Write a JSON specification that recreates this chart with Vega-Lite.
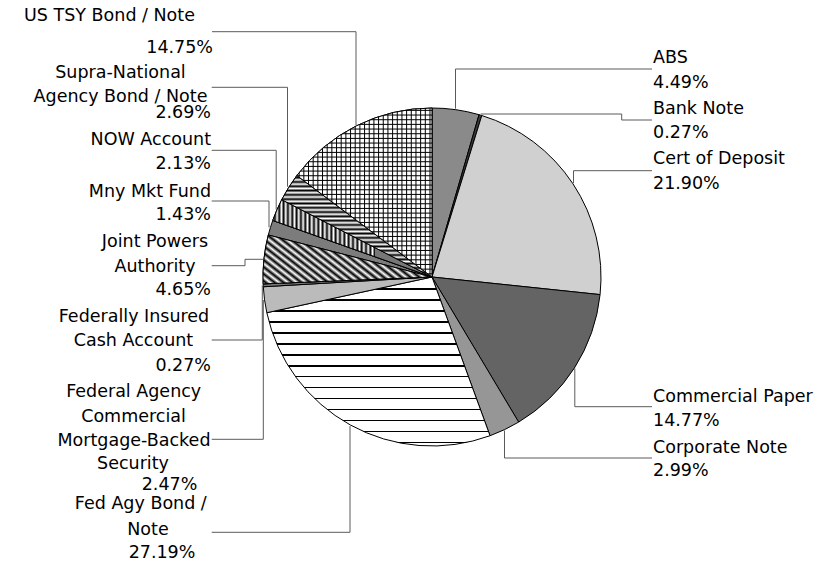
{
  "$schema": "https://vega.github.io/schema/vega-lite/v6.json",
  "width": 829,
  "height": 566,
  "autosize": {"type": "fit", "contains": "padding"},
  "padding": 0,
  "background": "white",
  "config": {"view": {"stroke": null}, "text": {"font": "DejaVu Sans", "fontSize": 17.5, "color": "#000"}},
  "datasets": {
    "slices": [
      {"idx": 1, "category": "ABS", "share": 4.49},
      {"idx": 2, "category": "Bank Note", "share": 0.27},
      {"idx": 3, "category": "Cert of Deposit", "share": 21.90},
      {"idx": 4, "category": "Commercial Paper", "share": 14.77},
      {"idx": 5, "category": "Corporate Note", "share": 2.99},
      {"idx": 6, "category": "Fed Agy Bond / Note", "share": 27.19},
      {"idx": 7, "category": "Federal Agency Commercial Mortgage-Backed Security", "share": 2.47},
      {"idx": 8, "category": "Federally Insured Cash Account", "share": 0.27},
      {"idx": 9, "category": "Joint Powers Authority", "share": 4.65},
      {"idx": 10, "category": "Mny Mkt Fund", "share": 1.43},
      {"idx": 11, "category": "NOW Account", "share": 2.13},
      {"idx": 12, "category": "Supra-National Agency Bond / Note", "share": 2.69},
      {"idx": 13, "category": "US TSY Bond / Note", "share": 14.75}
    ],
    "leaders": [
      {"id": "UST", "p": 1, "x": -76, "y": 152}, {"id": "UST", "p": 2, "x": -76, "y": 245.3}, {"id": "UST", "p": 3, "x": -220, "y": 245.3},
      {"id": "Supra", "p": 1, "x": -144.5, "y": 90.3}, {"id": "Supra", "p": 2, "x": -144.5, "y": 189.7}, {"id": "Supra", "p": 3, "x": -220.3, "y": 189.7},
      {"id": "NOW", "p": 1, "x": -155.8, "y": 67.5}, {"id": "NOW", "p": 2, "x": -155.8, "y": 126.7}, {"id": "NOW", "p": 3, "x": -220.3, "y": 126.7},
      {"id": "MMF", "p": 1, "x": -163, "y": 49.6}, {"id": "MMF", "p": 2, "x": -163, "y": 76}, {"id": "MMF", "p": 3, "x": -220.3, "y": 76},
      {"id": "JPA", "p": 1, "x": -169, "y": 17.7}, {"id": "JPA", "p": 2, "x": -187, "y": 17.7}, {"id": "JPA", "p": 3, "x": -187, "y": 11.3}, {"id": "JPA", "p": 4, "x": -220.3, "y": 11.3},
      {"id": "FICA", "p": 1, "x": -169.7, "y": -8.4}, {"id": "FICA", "p": 2, "x": -169.7, "y": -63}, {"id": "FICA", "p": 3, "x": -220.3, "y": -63},
      {"id": "CMBS", "p": 1, "x": -168.7, "y": -23}, {"id": "CMBS", "p": 2, "x": -168.7, "y": -162.3}, {"id": "CMBS", "p": 3, "x": -220.3, "y": -162.3},
      {"id": "FedAgy", "p": 1, "x": -82, "y": -149}, {"id": "FedAgy", "p": 2, "x": -82, "y": -255.3}, {"id": "FedAgy", "p": 3, "x": -220.3, "y": -255.3},
      {"id": "ABS", "p": 1, "x": 23.5, "y": 168.3}, {"id": "ABS", "p": 2, "x": 23.5, "y": 208}, {"id": "ABS", "p": 3, "x": 220, "y": 208},
      {"id": "Bank", "p": 1, "x": 48.7, "y": 163}, {"id": "Bank", "p": 2, "x": 189.7, "y": 163}, {"id": "Bank", "p": 3, "x": 189.7, "y": 157}, {"id": "Bank", "p": 4, "x": 220, "y": 157},
      {"id": "CD", "p": 1, "x": 141.5, "y": 94}, {"id": "CD", "p": 2, "x": 141.5, "y": 106.3}, {"id": "CD", "p": 3, "x": 220, "y": 106.3},
      {"id": "CP", "p": 1, "x": 142.8, "y": -91.5}, {"id": "CP", "p": 2, "x": 142.8, "y": -129.7}, {"id": "CP", "p": 3, "x": 220, "y": -129.7},
      {"id": "Corp", "p": 1, "x": 72.5, "y": -153.5}, {"id": "Corp", "p": 2, "x": 72.5, "y": -181}, {"id": "Corp", "p": 3, "x": 220, "y": -181}
    ],
    "labelsCenter": [
      {"t": "US TSY Bond / Note", "x": -322.5, "y": 261},
      {"t": "Supra-National", "x": -311.5, "y": 204.3},
      {"t": "Agency Bond / Note", "x": -311.5, "y": 180.5},
      {"t": "Joint Powers", "x": -277, "y": 34.7},
      {"t": "Authority", "x": -277, "y": 10.3},
      {"t": "Federally Insured", "x": -298, "y": -39.7},
      {"t": "Cash Account", "x": -298.5, "y": -64},
      {"t": "Federal Agency", "x": -298.3, "y": -115.3},
      {"t": "Commercial", "x": -298.5, "y": -139.7},
      {"t": "Mortgage-Backed", "x": -298, "y": -164},
      {"t": "Security", "x": -299, "y": -187},
      {"t": "2.47%", "x": -262.5, "y": -208},
      {"t": "Fed Agy Bond /", "x": -291.2, "y": -226.5},
      {"t": "Note", "x": -284, "y": -253},
      {"t": "27.19%", "x": -270, "y": -276.3}
    ],
    "labelsRight": [
      {"t": "14.75%", "x": -219, "y": 228.7},
      {"t": "2.69%", "x": -221, "y": 164.5},
      {"t": "NOW Account", "x": -221, "y": 137},
      {"t": "2.13%", "x": -221, "y": 112.7},
      {"t": "Mny Mkt Fund", "x": -221, "y": 85.3},
      {"t": "1.43%", "x": -221, "y": 62},
      {"t": "4.65%", "x": -221, "y": -13},
      {"t": "0.27%", "x": -221, "y": -89}
    ],
    "labelsLeft": [
      {"t": "ABS", "x": 221, "y": 218.7},
      {"t": "4.49%", "x": 221, "y": 194.3},
      {"t": "Bank Note", "x": 221, "y": 168},
      {"t": "0.27%", "x": 221, "y": 143.7},
      {"t": "Cert of Deposit", "x": 221, "y": 117.7},
      {"t": "21.90%", "x": 221, "y": 93},
      {"t": "Commercial Paper", "x": 221, "y": -120.3},
      {"t": "14.77%", "x": 221, "y": -144},
      {"t": "Corporate Note", "x": 221, "y": -170.7},
      {"t": "2.99%", "x": 221, "y": -194}
    ]
  },
  "layer": [
    {
      "data": {"name": "slices"},
      "mark": {"type": "arc", "outerRadius": 169, "stroke": "#000", "strokeWidth": 1},
      "encoding": {
        "x": {"datum": 0, "type": "quantitative", "scale": {"domain": [-432, 397], "nice": false, "zero": false}, "axis": null},
        "y": {"datum": 0, "type": "quantitative", "scale": {"domain": [-289, 277], "nice": false, "zero": false}, "axis": null},
        "theta": {"field": "share", "type": "quantitative", "stack": true},
        "order": {"field": "idx", "type": "quantitative"},
        "fill": {
          "condition": [
            {"test": "datum.idx === 6", "value": {"gradient": "linear", "x1": 0, "y1": 0, "x2": 0, "y2": 1, "stops": [
                {"offset": 0, "color": "#fff"},
                {"offset": 0.0679, "color": "#fff"}, {"offset": 0.0679, "color": "#000"}, {"offset": 0.0769, "color": "#000"}, {"offset": 0.0769, "color": "#fff"},
                {"offset": 0.1326, "color": "#fff"}, {"offset": 0.1326, "color": "#000"}, {"offset": 0.1416, "color": "#000"}, {"offset": 0.1416, "color": "#fff"},
                {"offset": 0.1973, "color": "#fff"}, {"offset": 0.1973, "color": "#000"}, {"offset": 0.2063, "color": "#000"}, {"offset": 0.2063, "color": "#fff"},
                {"offset": 0.2620, "color": "#fff"}, {"offset": 0.2620, "color": "#000"}, {"offset": 0.2710, "color": "#000"}, {"offset": 0.2710, "color": "#fff"},
                {"offset": 0.3267, "color": "#fff"}, {"offset": 0.3267, "color": "#000"}, {"offset": 0.3357, "color": "#000"}, {"offset": 0.3357, "color": "#fff"},
                {"offset": 0.3914, "color": "#fff"}, {"offset": 0.3914, "color": "#000"}, {"offset": 0.4004, "color": "#000"}, {"offset": 0.4004, "color": "#fff"},
                {"offset": 0.4561, "color": "#fff"}, {"offset": 0.4561, "color": "#000"}, {"offset": 0.4651, "color": "#000"}, {"offset": 0.4651, "color": "#fff"},
                {"offset": 0.5208, "color": "#fff"}, {"offset": 0.5208, "color": "#000"}, {"offset": 0.5298, "color": "#000"}, {"offset": 0.5298, "color": "#fff"},
                {"offset": 0.5855, "color": "#fff"}, {"offset": 0.5855, "color": "#000"}, {"offset": 0.5945, "color": "#000"}, {"offset": 0.5945, "color": "#fff"},
                {"offset": 0.6502, "color": "#fff"}, {"offset": 0.6502, "color": "#000"}, {"offset": 0.6592, "color": "#000"}, {"offset": 0.6592, "color": "#fff"},
                {"offset": 0.7149, "color": "#fff"}, {"offset": 0.7149, "color": "#000"}, {"offset": 0.7239, "color": "#000"}, {"offset": 0.7239, "color": "#fff"},
                {"offset": 0.7796, "color": "#fff"}, {"offset": 0.7796, "color": "#000"}, {"offset": 0.7886, "color": "#000"}, {"offset": 0.7886, "color": "#fff"},
                {"offset": 0.8443, "color": "#fff"}, {"offset": 0.8443, "color": "#000"}, {"offset": 0.8533, "color": "#000"}, {"offset": 0.8533, "color": "#fff"},
                {"offset": 0.9090, "color": "#fff"}, {"offset": 0.9090, "color": "#000"}, {"offset": 0.9180, "color": "#000"}, {"offset": 0.9180, "color": "#fff"},
                {"offset": 0.9737, "color": "#fff"}, {"offset": 0.9737, "color": "#000"}, {"offset": 0.9827, "color": "#000"}, {"offset": 0.9827, "color": "#fff"},
                {"offset": 1, "color": "#fff"}
              ]}}
          ],
          "field": "category", "type": "nominal", "legend": null,
          "scale": {
            "domain": ["ABS", "Bank Note", "Cert of Deposit", "Commercial Paper", "Corporate Note", "Fed Agy Bond / Note", "Federal Agency Commercial Mortgage-Backed Security", "Federally Insured Cash Account", "Joint Powers Authority", "Mny Mkt Fund", "NOW Account", "Supra-National Agency Bond / Note", "US TSY Bond / Note"],
            "range": ["#8a8a8a", "#3a3a3a", "#d0d0d0", "#646464", "#969696", "#ffffff", "#bbbbbb", "#777777", "#808080", "#7c7c7c", "#7a7a7a", "#868686", "#9c9c9c"]
          }
        }
      }
    },
    {
      "data": {"name": "slices"},
      "transform": [
        {"stack": "share", "groupby": [], "sort": [{"field": "idx", "order": "ascending"}], "as": ["s0", "s1"]},
        {"filter": "datum.idx === 9"}
      ],
      "mark": {"type": "arc", "outerRadius": 169, "stroke": "#000", "strokeWidth": 1,
        "fill": {"gradient": "linear", "x1": 0, "y1": 1, "x2": 1.205, "y2": 0.5543, "stops": [
          {"offset": 0.0000, "color": "#fff"}, {"offset": 0.0193, "color": "#000"}, {"offset": 0.0385, "color": "#fff"}, {"offset": 0.0578, "color": "#000"},
          {"offset": 0.0770, "color": "#fff"}, {"offset": 0.0963, "color": "#000"}, {"offset": 0.1155, "color": "#fff"}, {"offset": 0.1348, "color": "#000"},
          {"offset": 0.1540, "color": "#fff"}, {"offset": 0.1733, "color": "#000"}, {"offset": 0.1925, "color": "#fff"}, {"offset": 0.2118, "color": "#000"},
          {"offset": 0.2310, "color": "#fff"}, {"offset": 0.2503, "color": "#000"}, {"offset": 0.2695, "color": "#fff"}, {"offset": 0.2888, "color": "#000"},
          {"offset": 0.3080, "color": "#fff"}, {"offset": 0.3273, "color": "#000"}, {"offset": 0.3465, "color": "#fff"}, {"offset": 0.3658, "color": "#000"},
          {"offset": 0.3850, "color": "#fff"}, {"offset": 0.4043, "color": "#000"}, {"offset": 0.4235, "color": "#fff"}, {"offset": 0.4428, "color": "#000"},
          {"offset": 0.4620, "color": "#fff"}, {"offset": 0.4813, "color": "#000"}, {"offset": 0.5005, "color": "#fff"}, {"offset": 0.5198, "color": "#000"},
          {"offset": 0.5390, "color": "#fff"}, {"offset": 0.5583, "color": "#000"}, {"offset": 0.5775, "color": "#fff"}, {"offset": 0.5968, "color": "#000"},
          {"offset": 0.6160, "color": "#fff"}, {"offset": 0.6353, "color": "#000"}, {"offset": 0.6545, "color": "#fff"}, {"offset": 0.6738, "color": "#000"},
          {"offset": 0.6930, "color": "#fff"}, {"offset": 0.7123, "color": "#000"}, {"offset": 0.7315, "color": "#fff"}, {"offset": 0.7508, "color": "#000"},
          {"offset": 0.7700, "color": "#fff"}, {"offset": 0.7893, "color": "#000"}, {"offset": 0.8085, "color": "#fff"}, {"offset": 0.8278, "color": "#000"},
          {"offset": 0.8470, "color": "#fff"}, {"offset": 0.8663, "color": "#000"}, {"offset": 0.8855, "color": "#fff"}, {"offset": 0.9048, "color": "#000"},
          {"offset": 0.9240, "color": "#fff"}, {"offset": 0.9433, "color": "#000"}, {"offset": 0.9625, "color": "#fff"}, {"offset": 0.9818, "color": "#000"},
          {"offset": 1.0000, "color": "#fff"}
        ]}
      },
      "encoding": {
        "x": {"datum": 0, "type": "quantitative", "scale": {"domain": [-432, 397], "nice": false, "zero": false}, "axis": null},
        "y": {"datum": 0, "type": "quantitative", "scale": {"domain": [-289, 277], "nice": false, "zero": false}, "axis": null},
        "theta": {"field": "s0", "type": "quantitative"},
        "theta2": {"field": "s1"}
      }
    },
    {
      "data": {"name": "slices"},
      "transform": [
        {"stack": "share", "groupby": [], "sort": [{"field": "idx", "order": "ascending"}], "as": ["s0", "s1"]},
        {"filter": "datum.idx === 11"}
      ],
      "mark": {"type": "arc", "outerRadius": 169, "stroke": "#000", "strokeWidth": 1,
        "fill": {"gradient": "linear", "x1": 0, "y1": 0, "x2": 0.643, "y2": 0, "stops": [
          {"offset": 0.0000, "color": "#fff"}, {"offset": 0.0212, "color": "#000"}, {"offset": 0.0424, "color": "#fff"}, {"offset": 0.0635, "color": "#000"},
          {"offset": 0.0847, "color": "#fff"}, {"offset": 0.1059, "color": "#000"}, {"offset": 0.1271, "color": "#fff"}, {"offset": 0.1483, "color": "#000"},
          {"offset": 0.1694, "color": "#fff"}, {"offset": 0.1906, "color": "#000"}, {"offset": 0.2118, "color": "#fff"}, {"offset": 0.2330, "color": "#000"},
          {"offset": 0.2542, "color": "#fff"}, {"offset": 0.2753, "color": "#000"}, {"offset": 0.2965, "color": "#fff"}, {"offset": 0.3177, "color": "#000"},
          {"offset": 0.3389, "color": "#fff"}, {"offset": 0.3601, "color": "#000"}, {"offset": 0.3812, "color": "#fff"}, {"offset": 0.4024, "color": "#000"},
          {"offset": 0.4236, "color": "#fff"}, {"offset": 0.4448, "color": "#000"}, {"offset": 0.4660, "color": "#fff"}, {"offset": 0.4871, "color": "#000"},
          {"offset": 0.5083, "color": "#fff"}, {"offset": 0.5295, "color": "#000"}, {"offset": 0.5507, "color": "#fff"}, {"offset": 0.5719, "color": "#000"},
          {"offset": 0.5930, "color": "#fff"}, {"offset": 0.6142, "color": "#000"}, {"offset": 0.6354, "color": "#fff"}, {"offset": 0.6566, "color": "#000"},
          {"offset": 0.6778, "color": "#fff"}, {"offset": 0.6989, "color": "#000"}, {"offset": 0.7201, "color": "#fff"}, {"offset": 0.7413, "color": "#000"},
          {"offset": 0.7625, "color": "#fff"}, {"offset": 0.7837, "color": "#000"}, {"offset": 0.8048, "color": "#fff"}, {"offset": 0.8260, "color": "#000"},
          {"offset": 0.8472, "color": "#fff"}, {"offset": 0.8684, "color": "#000"}, {"offset": 0.8896, "color": "#fff"}, {"offset": 0.9107, "color": "#000"},
          {"offset": 0.9319, "color": "#fff"}, {"offset": 0.9531, "color": "#000"}, {"offset": 0.9743, "color": "#fff"}, {"offset": 0.9955, "color": "#000"},
          {"offset": 1.0000, "color": "#777"}
        ]}
      },
      "encoding": {
        "x": {"datum": 0, "type": "quantitative", "scale": {"domain": [-432, 397], "nice": false, "zero": false}, "axis": null},
        "y": {"datum": 0, "type": "quantitative", "scale": {"domain": [-289, 277], "nice": false, "zero": false}, "axis": null},
        "theta": {"field": "s0", "type": "quantitative"},
        "theta2": {"field": "s1"}
      }
    },
    {
      "data": {"name": "slices"},
      "transform": [
        {"stack": "share", "groupby": [], "sort": [{"field": "idx", "order": "ascending"}], "as": ["s0", "s1"]},
        {"filter": "datum.idx === 12"}
      ],
      "mark": {"type": "arc", "outerRadius": 169, "stroke": "#000", "strokeWidth": 1,
        "fill": {"gradient": "linear", "x1": 0, "y1": 0, "x2": 0, "y2": 1, "stops": [
          {"offset": 0.0000, "color": "#fff"}, {"offset": 0.0212, "color": "#000"}, {"offset": 0.0424, "color": "#fff"}, {"offset": 0.0635, "color": "#000"},
          {"offset": 0.0847, "color": "#fff"}, {"offset": 0.1059, "color": "#000"}, {"offset": 0.1271, "color": "#fff"}, {"offset": 0.1483, "color": "#000"},
          {"offset": 0.1694, "color": "#fff"}, {"offset": 0.1906, "color": "#000"}, {"offset": 0.2118, "color": "#fff"}, {"offset": 0.2330, "color": "#000"},
          {"offset": 0.2542, "color": "#fff"}, {"offset": 0.2753, "color": "#000"}, {"offset": 0.2965, "color": "#fff"}, {"offset": 0.3177, "color": "#000"},
          {"offset": 0.3389, "color": "#fff"}, {"offset": 0.3601, "color": "#000"}, {"offset": 0.3812, "color": "#fff"}, {"offset": 0.4024, "color": "#000"},
          {"offset": 0.4236, "color": "#fff"}, {"offset": 0.4448, "color": "#000"}, {"offset": 0.4660, "color": "#fff"}, {"offset": 0.4871, "color": "#000"},
          {"offset": 0.5083, "color": "#fff"}, {"offset": 0.5295, "color": "#000"}, {"offset": 0.5507, "color": "#fff"}, {"offset": 0.5719, "color": "#000"},
          {"offset": 0.5930, "color": "#fff"}, {"offset": 0.6142, "color": "#000"}, {"offset": 0.6354, "color": "#fff"}, {"offset": 0.6566, "color": "#000"},
          {"offset": 0.6778, "color": "#fff"}, {"offset": 0.6989, "color": "#000"}, {"offset": 0.7201, "color": "#fff"}, {"offset": 0.7413, "color": "#000"},
          {"offset": 0.7625, "color": "#fff"}, {"offset": 0.7837, "color": "#000"}, {"offset": 0.8048, "color": "#fff"}, {"offset": 0.8260, "color": "#000"},
          {"offset": 0.8472, "color": "#fff"}, {"offset": 0.8684, "color": "#000"}, {"offset": 0.8896, "color": "#fff"}, {"offset": 0.9107, "color": "#000"},
          {"offset": 0.9319, "color": "#fff"}, {"offset": 0.9531, "color": "#000"}, {"offset": 0.9743, "color": "#fff"}, {"offset": 0.9955, "color": "#000"},
          {"offset": 1.0000, "color": "#000"}
        ]}
      },
      "encoding": {
        "x": {"datum": 0, "type": "quantitative", "scale": {"domain": [-432, 397], "nice": false, "zero": false}, "axis": null},
        "y": {"datum": 0, "type": "quantitative", "scale": {"domain": [-289, 277], "nice": false, "zero": false}, "axis": null},
        "theta": {"field": "s0", "type": "quantitative"},
        "theta2": {"field": "s1"}
      }
    },
    {
      "data": {"name": "slices"},
      "transform": [
        {"stack": "share", "groupby": [], "sort": [{"field": "idx", "order": "ascending"}], "as": ["s0", "s1"]},
        {"filter": "datum.idx === 13"}
      ],
      "mark": {"type": "arc", "outerRadius": 169, "stroke": "#000", "strokeWidth": 1,
        "fill": {"gradient": "linear", "x1": 0, "y1": 0, "x2": 1, "y2": 0, "stops": [
          {"offset": 0, "color": "#fff"},
          {"offset": 0.0096, "color": "#fff"}, {"offset": 0.0170, "color": "#000"}, {"offset": 0.0244, "color": "#fff"},
          {"offset": 0.0442, "color": "#fff"}, {"offset": 0.0516, "color": "#000"}, {"offset": 0.0590, "color": "#fff"},
          {"offset": 0.0787, "color": "#fff"}, {"offset": 0.0861, "color": "#000"}, {"offset": 0.0935, "color": "#fff"},
          {"offset": 0.1133, "color": "#fff"}, {"offset": 0.1207, "color": "#000"}, {"offset": 0.1281, "color": "#fff"},
          {"offset": 0.1479, "color": "#fff"}, {"offset": 0.1553, "color": "#000"}, {"offset": 0.1627, "color": "#fff"},
          {"offset": 0.1825, "color": "#fff"}, {"offset": 0.1899, "color": "#000"}, {"offset": 0.1973, "color": "#fff"},
          {"offset": 0.2170, "color": "#fff"}, {"offset": 0.2244, "color": "#000"}, {"offset": 0.2318, "color": "#fff"},
          {"offset": 0.2516, "color": "#fff"}, {"offset": 0.2590, "color": "#000"}, {"offset": 0.2664, "color": "#fff"},
          {"offset": 0.2862, "color": "#fff"}, {"offset": 0.2936, "color": "#000"}, {"offset": 0.3010, "color": "#fff"},
          {"offset": 0.3207, "color": "#fff"}, {"offset": 0.3281, "color": "#000"}, {"offset": 0.3355, "color": "#fff"},
          {"offset": 0.3553, "color": "#fff"}, {"offset": 0.3627, "color": "#000"}, {"offset": 0.3701, "color": "#fff"},
          {"offset": 0.3899, "color": "#fff"}, {"offset": 0.3973, "color": "#000"}, {"offset": 0.4047, "color": "#fff"},
          {"offset": 0.4244, "color": "#fff"}, {"offset": 0.4318, "color": "#000"}, {"offset": 0.4392, "color": "#fff"},
          {"offset": 0.4590, "color": "#fff"}, {"offset": 0.4664, "color": "#000"}, {"offset": 0.4738, "color": "#fff"},
          {"offset": 0.4936, "color": "#fff"}, {"offset": 0.5010, "color": "#000"}, {"offset": 0.5084, "color": "#fff"},
          {"offset": 0.5282, "color": "#fff"}, {"offset": 0.5356, "color": "#000"}, {"offset": 0.5430, "color": "#fff"},
          {"offset": 0.5627, "color": "#fff"}, {"offset": 0.5701, "color": "#000"}, {"offset": 0.5775, "color": "#fff"},
          {"offset": 0.5973, "color": "#fff"}, {"offset": 0.6047, "color": "#000"}, {"offset": 0.6121, "color": "#fff"},
          {"offset": 0.6319, "color": "#fff"}, {"offset": 0.6393, "color": "#000"}, {"offset": 0.6467, "color": "#fff"},
          {"offset": 0.6664, "color": "#fff"}, {"offset": 0.6738, "color": "#000"}, {"offset": 0.6812, "color": "#fff"},
          {"offset": 0.7010, "color": "#fff"}, {"offset": 0.7084, "color": "#000"}, {"offset": 0.7158, "color": "#fff"},
          {"offset": 0.7356, "color": "#fff"}, {"offset": 0.7430, "color": "#000"}, {"offset": 0.7504, "color": "#fff"},
          {"offset": 0.7701, "color": "#fff"}, {"offset": 0.7775, "color": "#000"}, {"offset": 0.7849, "color": "#fff"},
          {"offset": 0.8047, "color": "#fff"}, {"offset": 0.8121, "color": "#000"}, {"offset": 0.8195, "color": "#fff"},
          {"offset": 0.8393, "color": "#fff"}, {"offset": 0.8467, "color": "#000"}, {"offset": 0.8541, "color": "#fff"},
          {"offset": 0.8739, "color": "#fff"}, {"offset": 0.8813, "color": "#000"}, {"offset": 0.8887, "color": "#fff"},
          {"offset": 0.9084, "color": "#fff"}, {"offset": 0.9158, "color": "#000"}, {"offset": 0.9232, "color": "#fff"},
          {"offset": 0.9430, "color": "#fff"}, {"offset": 0.9504, "color": "#000"}, {"offset": 0.9578, "color": "#fff"},
          {"offset": 0.9776, "color": "#fff"}, {"offset": 0.9850, "color": "#000"}, {"offset": 0.9924, "color": "#fff"},
          {"offset": 1, "color": "#fff"}
        ]}
      },
      "encoding": {
        "x": {"datum": 0, "type": "quantitative", "scale": {"domain": [-432, 397], "nice": false, "zero": false}, "axis": null},
        "y": {"datum": 0, "type": "quantitative", "scale": {"domain": [-289, 277], "nice": false, "zero": false}, "axis": null},
        "theta": {"field": "s0", "type": "quantitative"},
        "theta2": {"field": "s1"}
      }
    },
    {
      "data": {"name": "slices"},
      "transform": [
        {"stack": "share", "groupby": [], "sort": [{"field": "idx", "order": "ascending"}], "as": ["s0", "s1"]},
        {"filter": "datum.idx === 13"}
      ],
      "mark": {"type": "arc", "outerRadius": 169, "strokeWidth": 0,
        "fill": {"gradient": "linear", "x1": 0, "y1": 0, "x2": 0, "y2": 1, "stops": [
          {"offset": 0, "color": "rgba(0,0,0,0)"},
          {"offset": 0.0081, "color": "rgba(0,0,0,0)"}, {"offset": 0.0140, "color": "#000"}, {"offset": 0.0199, "color": "rgba(0,0,0,0)"},
          {"offset": 0.0357, "color": "rgba(0,0,0,0)"}, {"offset": 0.0416, "color": "#000"}, {"offset": 0.0475, "color": "rgba(0,0,0,0)"},
          {"offset": 0.0634, "color": "rgba(0,0,0,0)"}, {"offset": 0.0693, "color": "#000"}, {"offset": 0.0752, "color": "rgba(0,0,0,0)"},
          {"offset": 0.0910, "color": "rgba(0,0,0,0)"}, {"offset": 0.0969, "color": "#000"}, {"offset": 0.1028, "color": "rgba(0,0,0,0)"},
          {"offset": 0.1186, "color": "rgba(0,0,0,0)"}, {"offset": 0.1245, "color": "#000"}, {"offset": 0.1304, "color": "rgba(0,0,0,0)"},
          {"offset": 0.1463, "color": "rgba(0,0,0,0)"}, {"offset": 0.1522, "color": "#000"}, {"offset": 0.1581, "color": "rgba(0,0,0,0)"},
          {"offset": 0.1739, "color": "rgba(0,0,0,0)"}, {"offset": 0.1798, "color": "#000"}, {"offset": 0.1857, "color": "rgba(0,0,0,0)"},
          {"offset": 0.2015, "color": "rgba(0,0,0,0)"}, {"offset": 0.2074, "color": "#000"}, {"offset": 0.2133, "color": "rgba(0,0,0,0)"},
          {"offset": 0.2291, "color": "rgba(0,0,0,0)"}, {"offset": 0.2350, "color": "#000"}, {"offset": 0.2409, "color": "rgba(0,0,0,0)"},
          {"offset": 0.2568, "color": "rgba(0,0,0,0)"}, {"offset": 0.2627, "color": "#000"}, {"offset": 0.2686, "color": "rgba(0,0,0,0)"},
          {"offset": 0.2844, "color": "rgba(0,0,0,0)"}, {"offset": 0.2903, "color": "#000"}, {"offset": 0.2962, "color": "rgba(0,0,0,0)"},
          {"offset": 0.3120, "color": "rgba(0,0,0,0)"}, {"offset": 0.3179, "color": "#000"}, {"offset": 0.3238, "color": "rgba(0,0,0,0)"},
          {"offset": 0.3397, "color": "rgba(0,0,0,0)"}, {"offset": 0.3456, "color": "#000"}, {"offset": 0.3515, "color": "rgba(0,0,0,0)"},
          {"offset": 0.3673, "color": "rgba(0,0,0,0)"}, {"offset": 0.3732, "color": "#000"}, {"offset": 0.3791, "color": "rgba(0,0,0,0)"},
          {"offset": 0.3949, "color": "rgba(0,0,0,0)"}, {"offset": 0.4008, "color": "#000"}, {"offset": 0.4067, "color": "rgba(0,0,0,0)"},
          {"offset": 0.4226, "color": "rgba(0,0,0,0)"}, {"offset": 0.4285, "color": "#000"}, {"offset": 0.4344, "color": "rgba(0,0,0,0)"},
          {"offset": 0.4502, "color": "rgba(0,0,0,0)"}, {"offset": 0.4561, "color": "#000"}, {"offset": 0.4620, "color": "rgba(0,0,0,0)"},
          {"offset": 0.4778, "color": "rgba(0,0,0,0)"}, {"offset": 0.4837, "color": "#000"}, {"offset": 0.4896, "color": "rgba(0,0,0,0)"},
          {"offset": 0.5054, "color": "rgba(0,0,0,0)"}, {"offset": 0.5113, "color": "#000"}, {"offset": 0.5172, "color": "rgba(0,0,0,0)"},
          {"offset": 0.5331, "color": "rgba(0,0,0,0)"}, {"offset": 0.5390, "color": "#000"}, {"offset": 0.5449, "color": "rgba(0,0,0,0)"},
          {"offset": 0.5607, "color": "rgba(0,0,0,0)"}, {"offset": 0.5666, "color": "#000"}, {"offset": 0.5725, "color": "rgba(0,0,0,0)"},
          {"offset": 0.5883, "color": "rgba(0,0,0,0)"}, {"offset": 0.5942, "color": "#000"}, {"offset": 0.6001, "color": "rgba(0,0,0,0)"},
          {"offset": 0.6160, "color": "rgba(0,0,0,0)"}, {"offset": 0.6219, "color": "#000"}, {"offset": 0.6278, "color": "rgba(0,0,0,0)"},
          {"offset": 0.6436, "color": "rgba(0,0,0,0)"}, {"offset": 0.6495, "color": "#000"}, {"offset": 0.6554, "color": "rgba(0,0,0,0)"},
          {"offset": 0.6712, "color": "rgba(0,0,0,0)"}, {"offset": 0.6771, "color": "#000"}, {"offset": 0.6830, "color": "rgba(0,0,0,0)"},
          {"offset": 0.6989, "color": "rgba(0,0,0,0)"}, {"offset": 0.7048, "color": "#000"}, {"offset": 0.7107, "color": "rgba(0,0,0,0)"},
          {"offset": 0.7265, "color": "rgba(0,0,0,0)"}, {"offset": 0.7324, "color": "#000"}, {"offset": 0.7383, "color": "rgba(0,0,0,0)"},
          {"offset": 0.7541, "color": "rgba(0,0,0,0)"}, {"offset": 0.7600, "color": "#000"}, {"offset": 0.7659, "color": "rgba(0,0,0,0)"},
          {"offset": 0.7817, "color": "rgba(0,0,0,0)"}, {"offset": 0.7876, "color": "#000"}, {"offset": 0.7935, "color": "rgba(0,0,0,0)"},
          {"offset": 0.8094, "color": "rgba(0,0,0,0)"}, {"offset": 0.8153, "color": "#000"}, {"offset": 0.8212, "color": "rgba(0,0,0,0)"},
          {"offset": 0.8370, "color": "rgba(0,0,0,0)"}, {"offset": 0.8429, "color": "#000"}, {"offset": 0.8488, "color": "rgba(0,0,0,0)"},
          {"offset": 0.8646, "color": "rgba(0,0,0,0)"}, {"offset": 0.8705, "color": "#000"}, {"offset": 0.8764, "color": "rgba(0,0,0,0)"},
          {"offset": 0.8923, "color": "rgba(0,0,0,0)"}, {"offset": 0.8982, "color": "#000"}, {"offset": 0.9041, "color": "rgba(0,0,0,0)"},
          {"offset": 0.9199, "color": "rgba(0,0,0,0)"}, {"offset": 0.9258, "color": "#000"}, {"offset": 0.9317, "color": "rgba(0,0,0,0)"},
          {"offset": 0.9475, "color": "rgba(0,0,0,0)"}, {"offset": 0.9534, "color": "#000"}, {"offset": 0.9593, "color": "rgba(0,0,0,0)"},
          {"offset": 0.9752, "color": "rgba(0,0,0,0)"}, {"offset": 0.9811, "color": "#000"}, {"offset": 0.9870, "color": "rgba(0,0,0,0)"},
          {"offset": 1, "color": "rgba(0,0,0,0)"}
        ]}
      },
      "encoding": {
        "x": {"datum": 0, "type": "quantitative", "scale": {"domain": [-432, 397], "nice": false, "zero": false}, "axis": null},
        "y": {"datum": 0, "type": "quantitative", "scale": {"domain": [-289, 277], "nice": false, "zero": false}, "axis": null},
        "theta": {"field": "s0", "type": "quantitative"},
        "theta2": {"field": "s1"}
      }
    },
    {
      "data": {"name": "leaders"},
      "mark": {"type": "line", "stroke": "#5a5a5a", "strokeWidth": 1, "interpolate": "linear"},
      "encoding": {
        "x": {"field": "x", "type": "quantitative", "scale": {"domain": [-432, 397], "nice": false, "zero": false}, "axis": null},
        "y": {"field": "y", "type": "quantitative", "scale": {"domain": [-289, 277], "nice": false, "zero": false}, "axis": null},
        "detail": {"field": "id", "type": "nominal"},
        "order": {"field": "p", "type": "quantitative"}
      }
    },
    {
      "data": {"name": "labelsCenter"},
      "mark": {"type": "text", "align": "center", "baseline": "middle"},
      "encoding": {
        "x": {"field": "x", "type": "quantitative"},
        "y": {"field": "y", "type": "quantitative"},
        "text": {"field": "t", "type": "nominal"}
      }
    },
    {
      "data": {"name": "labelsRight"},
      "mark": {"type": "text", "align": "right", "baseline": "middle"},
      "encoding": {
        "x": {"field": "x", "type": "quantitative"},
        "y": {"field": "y", "type": "quantitative"},
        "text": {"field": "t", "type": "nominal"}
      }
    },
    {
      "data": {"name": "labelsLeft"},
      "mark": {"type": "text", "align": "left", "baseline": "middle"},
      "encoding": {
        "x": {"field": "x", "type": "quantitative"},
        "y": {"field": "y", "type": "quantitative"},
        "text": {"field": "t", "type": "nominal"}
      }
    }
  ]
}
